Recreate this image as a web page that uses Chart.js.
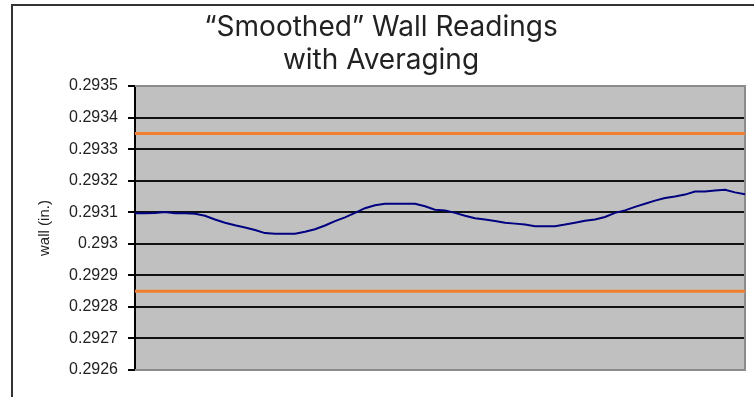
<!DOCTYPE html>
<html>
<head>
<meta charset="utf-8">
<script src="https://cdn.jsdelivr.net/npm/chart.js@4/dist/chart.umd.min.js"></script>
<style>
  html, body { margin: 0; padding: 0; background: #fff; overflow: hidden; }
  #wrap { position: relative; width: 754px; height: 397px; }
  #frame { position: absolute; left: 11px; top: 4px; width: 800px; height: 500px; border: 2px solid #333; box-sizing: border-box; }
  canvas { position: absolute; left: 0; top: 0; }
</style>
</head>
<body>
<div id="wrap">
  <div id="frame"></div>
  <canvas id="chart" width="754" height="397"></canvas>
</div>
<script>
// ==== data ====
const sampleIdx = Array.from({ length: 62 }, (_, i) => i + 1);
const wallReadings = [
  0.293097, 0.293097, 0.293098, 0.293101, 0.293097, 0.293097, 0.293095, 0.293089,
  0.293077, 0.293067, 0.293059, 0.293052, 0.293044, 0.293034, 0.293032, 0.293032,
  0.293032, 0.293038, 0.293046, 0.293058, 0.293072, 0.293084, 0.293098, 0.293113,
  0.293122, 0.293127, 0.293127, 0.293127, 0.293127, 0.293119, 0.293108, 0.293106,
  0.293098, 0.293089, 0.293081, 0.293077, 0.293072, 0.293067, 0.293064, 0.293061,
  0.293056, 0.293056, 0.293056, 0.293061, 0.293067, 0.293073, 0.293077, 0.293085,
  0.293098, 0.293106, 0.293117, 0.293127, 0.293137, 0.293145, 0.293150, 0.293156,
  0.293166, 0.293166, 0.293169, 0.293171, 0.293163, 0.293157
];
const upperLimit = 0.29335;
const lowerLimit = 0.29285;
const yMin = 0.2926, yMax = 0.2935, yStep = 0.0001;
const titleLines = ["\u201CSmoothed\u201D Wall Readings", "with Averaging"];

// plot background + grey frame
const plotBox = {
  id: "plotBox",
  beforeDatasetsDraw(chart) {
    const { ctx, chartArea: a } = chart;
    ctx.save();
    ctx.strokeStyle = "#8c8c8c";
    ctx.lineWidth = 2;
    ctx.beginPath();
    ctx.moveTo(a.left, a.top);
    ctx.lineTo(a.right, a.top);
    ctx.lineTo(a.right, a.bottom);
    ctx.lineTo(a.left, a.bottom);
    ctx.stroke();
    ctx.restore();
  },
  beforeDraw(chart) {
    const { ctx, chartArea: a } = chart;
    ctx.save();
    ctx.fillStyle = "#c0c0c0";
    ctx.fillRect(a.left, a.top, a.right - a.left, a.bottom - a.top);
    ctx.restore();
  }
};

new Chart(document.getElementById("chart"), {
  type: "line",
  data: {
    labels: sampleIdx,
    datasets: [
      { data: wallReadings, borderColor: "#000080", borderWidth: 2, pointRadius: 0, tension: 0 },
      { data: sampleIdx.map(() => upperLimit), borderColor: "#f07f2d", borderWidth: 3, pointRadius: 0 },
      { data: sampleIdx.map(() => lowerLimit), borderColor: "#f07f2d", borderWidth: 3, pointRadius: 0 }
    ]
  },
  options: {
    responsive: false,
    animation: false,
    layout: { padding: { left: 17, right: 9, top: 0, bottom: 27 } },
    plugins: {
      legend: { display: false },
      tooltip: { enabled: false },
      title: {
        display: true,
        text: titleLines,
        color: "#222",
        font: { family: "Inter", size: 28, weight: "normal", lineHeight: 1.18 },
        padding: { top: 11, bottom: 9 }
      }
    },
    scales: {
      x: { display: false, offset: false },
      y: {
        min: yMin, max: yMax,
        afterFit: (s) => { s.width = 118; },
        border: { display: true, color: "#000", width: 2 },
        grid: {
          color: (c) => (c.index === 0 || c.index === 9) ? "rgba(0,0,0,0)" : "#111",
          lineWidth: 2,
          tickLength: 7,
          tickColor: "#000",
          tickWidth: 2
        },
        ticks: {
          stepSize: yStep,
          padding: 10,
          color: "#222",
          font: { family: "Liberation Sans", size: 16 },
          callback: (v) => String(Math.round(v * 10000) / 10000)
        },
        title: {
          display: true,
          text: "wall (in.)",
          color: "#222",
          font: { family: "Liberation Sans", size: 15 },
          padding: { top: 19, bottom: 0 }
        }
      }
    }
  },
  plugins: [plotBox]
});
</script>
</body>
</html>
